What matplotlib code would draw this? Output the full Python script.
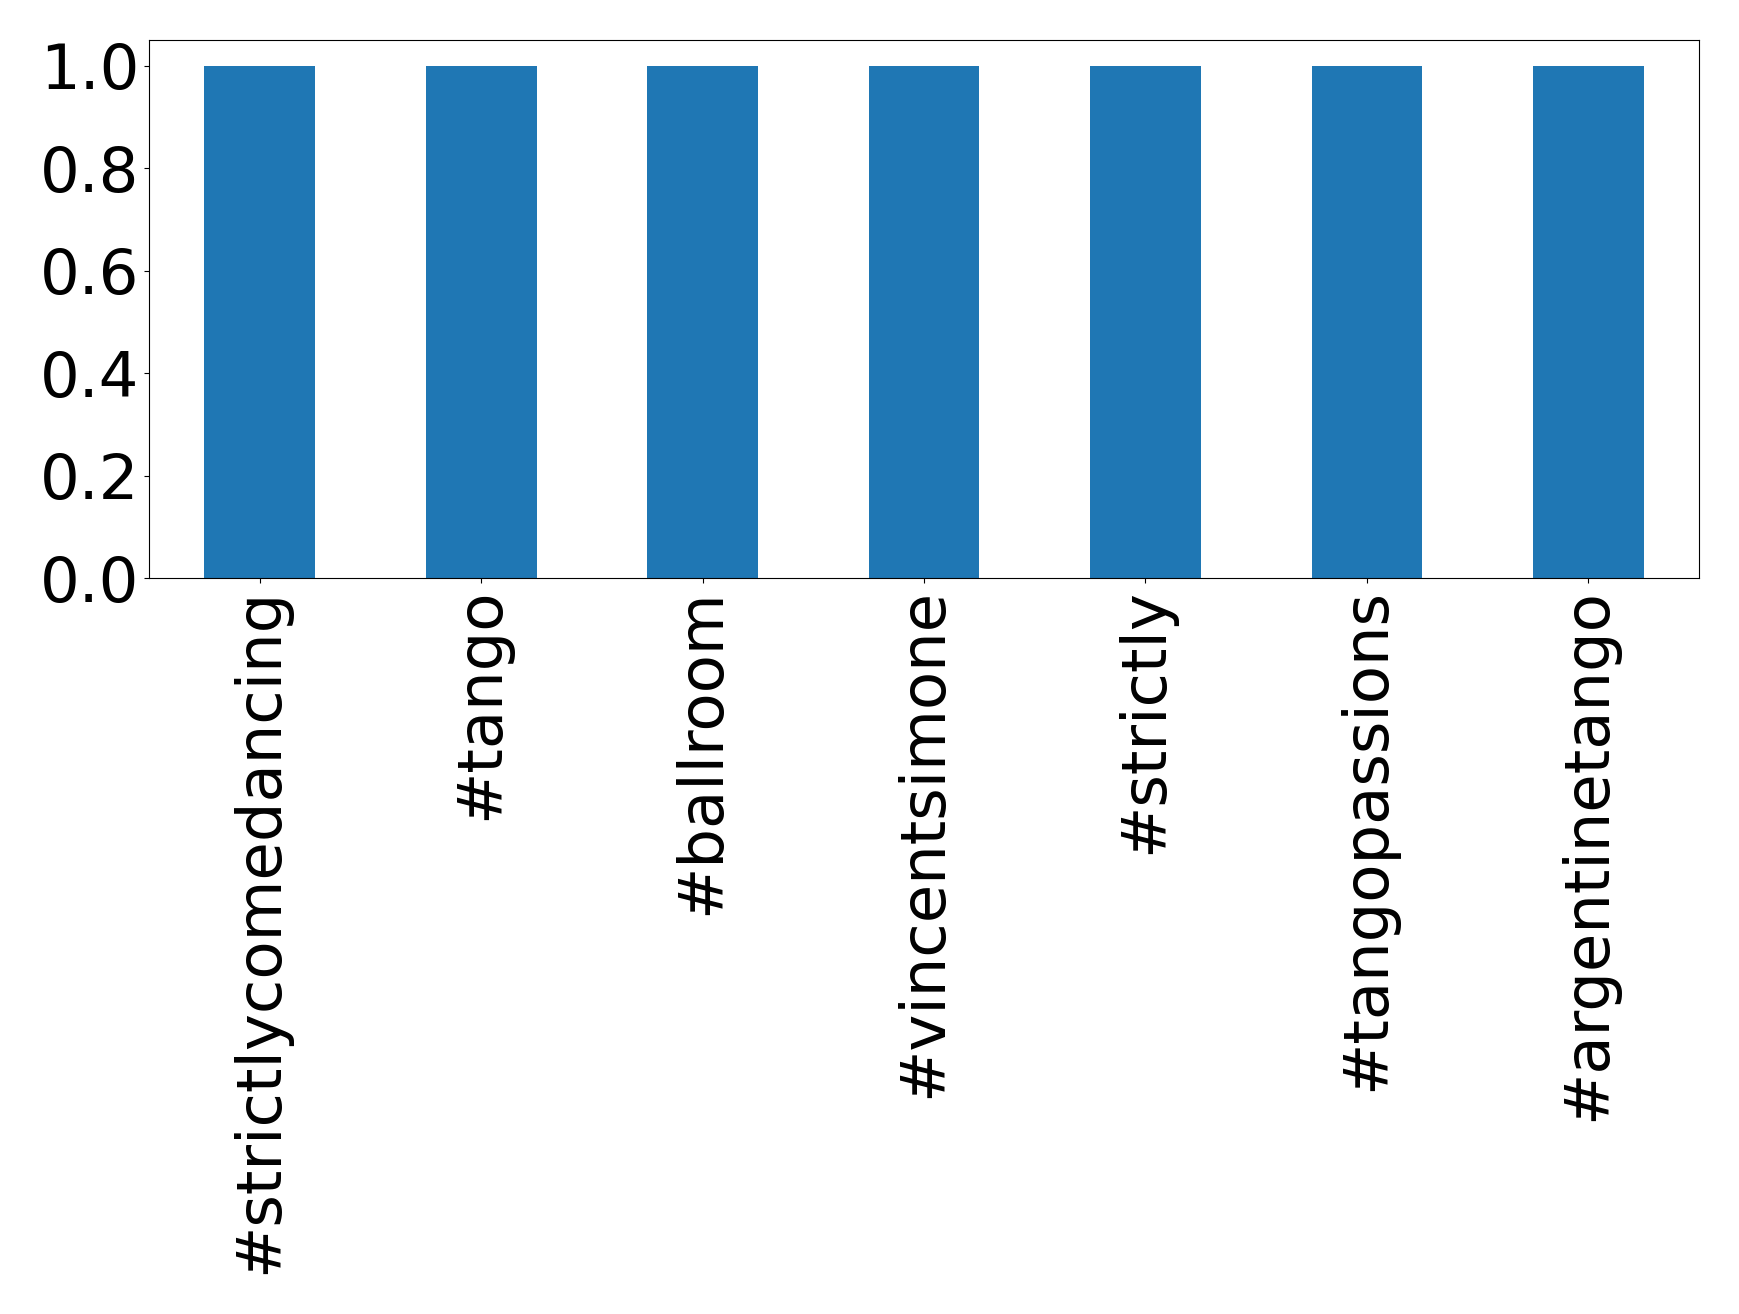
import matplotlib
matplotlib.use('Agg')
import matplotlib.pyplot as plt
import pandas as pd

hashtags = ['#strictlycomedancing', '#tango', '#ballroom', '#vincentsimone',
            '#strictly', '#tangopassions', '#argentinetango']
counts = [1.0, 1.0, 1.0, 1.0, 1.0, 1.0, 1.0]

s = pd.Series(counts, index=hashtags)

fig = plt.figure(figsize=(17.39, 13.14), dpi=100)
ax = fig.add_axes([0.0857, 0.560, 0.977 - 0.0857, 0.9696 - 0.560])
s.plot(kind='bar', ax=ax, color='#1f77b4', fontsize=45)
ax.tick_params(axis='x', labelrotation=90)

fig.savefig('out.png', dpi=100, facecolor='white')
